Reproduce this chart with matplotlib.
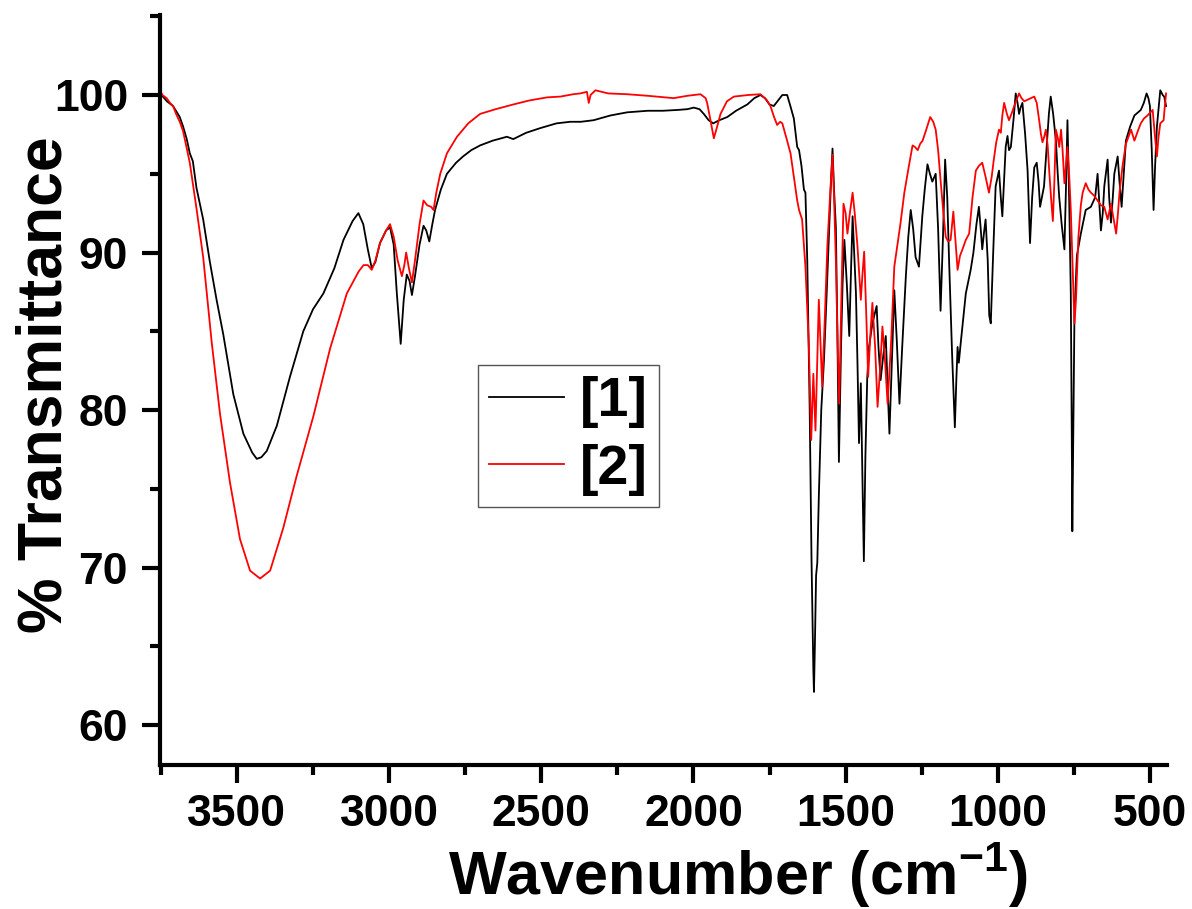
import numpy as np
import matplotlib
matplotlib.use('Agg')
import matplotlib.pyplot as plt
from matplotlib.ticker import MultipleLocator

# FT-IR spectra of the two compounds (wavenumber in cm-1, % transmittance)
wn_1 = [3750, 3748, 3730, 3710, 3688, 3677, 3665, 3655, 3645, 3633, 3611, 3589, 3567, 3545, 3512,
        3479, 3450, 3435, 3420, 3402, 3369, 3326, 3282, 3250, 3216, 3180, 3150, 3120, 3101, 3085,
        3070, 3057, 3045, 3030, 3010, 2997, 2985, 2975, 2962, 2952, 2942, 2933, 2925, 2915, 2900,
        2887, 2878, 2868, 2858, 2849, 2830, 2810, 2780, 2757, 2730, 2701, 2660, 2613, 2592, 2550,
        2503, 2450, 2405, 2370, 2328, 2273, 2218, 2150, 2100, 2054, 2020, 1999, 1980, 1966, 1950,
        1935, 1915, 1889, 1860, 1823, 1800, 1780, 1765, 1750, 1736, 1720, 1708, 1692, 1680, 1670,
        1659, 1653, 1645, 1637, 1632, 1626, 1618, 1612, 1606, 1604, 1601, 1597, 1593, 1588, 1580,
        1571, 1562, 1554, 1548, 1543, 1538, 1532, 1527, 1522, 1515, 1510, 1504, 1496, 1488, 1482,
        1477, 1472, 1466, 1461, 1456, 1450, 1445, 1440, 1435, 1429, 1423, 1412, 1398, 1392, 1385,
        1376, 1368, 1362, 1356, 1348, 1340, 1332, 1323, 1314, 1302, 1294, 1286, 1278, 1270, 1259,
        1248, 1240, 1231, 1223, 1215, 1204, 1196, 1188, 1180, 1173, 1166, 1160, 1150, 1141, 1136,
        1132, 1128, 1122, 1115, 1105, 1089, 1080, 1070, 1062, 1056, 1051, 1045, 1040, 1033, 1028,
        1023, 1015, 1007, 996, 990, 985, 974, 968, 963, 957, 948, 941, 935, 930, 925,
        919, 910, 902, 898, 894, 887, 880, 872, 866, 861, 855, 848, 840, 832, 826,
        818, 809, 803, 798, 790, 781, 776, 771, 765, 760, 757, 755, 752, 748, 740,
        727, 711, 694, 680, 672, 666, 661, 655, 650, 639, 634, 628, 622, 617, 606,
        600, 593, 586, 579, 565, 551, 530, 520, 511, 505, 500, 494, 488, 483, 477,
        466, 458, 453, 447]
tr_1 = [100.0, 100.0, 99.6, 99.3, 98.6, 98.0, 97.2, 96.3, 95.8, 94.1, 92.1, 89.4, 87.0, 84.8, 81.0,
        78.5, 77.3, 76.9, 77.0, 77.4, 79.0, 82.1, 85.0, 86.4, 87.4, 89.0, 90.8, 92.0, 92.5, 91.8,
        90.2, 89.0, 89.4, 90.6, 91.4, 91.6, 90.5, 87.5, 84.2, 87.0, 88.6, 88.2, 87.3, 88.5, 90.5,
        91.7, 91.4, 90.7, 91.8, 92.7, 94.0, 95.0, 95.7, 96.1, 96.5, 96.8, 97.1, 97.35, 97.2, 97.6,
        97.9, 98.2, 98.3, 98.3, 98.4, 98.7, 98.9, 99.0, 99.0, 99.05, 99.1, 99.2, 99.1, 98.8, 98.4,
        98.2, 98.4, 98.6, 99.0, 99.4, 99.8, 100.0, 99.8, 99.4, 99.3, 99.7, 100.0, 100.0, 99.2, 98.5,
        96.7, 96.5, 95.5, 94.0, 93.8, 89.5, 80.0, 70.5, 63.5, 62.1, 65.0, 69.5, 70.3, 74.5, 80.0,
        83.2, 87.5, 91.6, 94.5, 96.6, 94.0, 91.6, 85.0, 76.7, 84.0, 88.0, 90.8, 88.0, 84.7, 89.0,
        92.3, 90.0, 87.4, 83.0, 77.9, 81.7, 76.0, 70.4, 77.0, 82.0, 84.0, 85.5, 86.6, 84.0, 81.9,
        83.5, 84.7, 81.5, 78.5, 83.0, 87.6, 84.5, 80.4, 84.0, 88.5, 91.0, 92.7, 91.5, 89.7, 89.1,
        92.3, 94.0, 95.6, 95.0, 94.5, 95.0, 91.5, 86.3, 91.0, 95.9, 93.5, 89.5, 83.5, 78.9, 82.0,
        84.0, 83.0, 84.2, 85.5, 87.4, 88.9, 90.0, 91.8, 92.9, 91.5, 90.2, 91.3, 92.1, 89.5, 86.0,
        85.5, 90.0, 94.2, 95.2, 93.5, 92.3, 96.7, 97.4, 96.5, 96.7, 98.5, 100.1, 99.5, 98.8, 99.2,
        99.5, 97.5, 95.2, 93.0, 90.6, 93.5, 95.4, 95.7, 94.5, 92.9, 93.5, 94.2, 96.5, 98.8, 99.9,
        98.8, 97.1, 95.0, 93.5, 91.8, 90.2, 94.0, 98.4, 93.0, 87.4, 79.0, 72.3, 78.0, 86.0, 89.8,
        91.2, 92.7, 92.9, 93.5, 95.0, 93.0, 91.4, 92.5, 94.2, 95.9, 93.5, 91.9, 93.5, 95.0, 96.1,
        94.5, 92.9, 95.0, 97.1, 98.0, 98.7, 99.05, 99.5, 100.1, 99.8, 99.3, 96.5, 92.7, 95.5, 98.0,
        100.3, 100.0, 99.9, 99.3]

wn_2 = [3750, 3745, 3731, 3720, 3710, 3700, 3688, 3677, 3665, 3655, 3633, 3611, 3583, 3556, 3523,
        3490, 3457, 3424, 3391, 3348, 3304, 3249, 3194, 3139, 3100, 3084, 3070, 3057, 3045, 3030,
        3010, 2997, 2985, 2972, 2958, 2950, 2944, 2935, 2925, 2915, 2900, 2887, 2875, 2862, 2854,
        2845, 2832, 2810, 2777, 2740, 2701, 2650, 2592, 2540, 2481, 2437, 2395, 2372, 2350, 2344,
        2338, 2322, 2280, 2218, 2150, 2065, 2020, 1977, 1960, 1955, 1945, 1933, 1922, 1911, 1890,
        1867, 1820, 1780, 1760, 1747, 1735, 1725, 1715, 1708, 1695, 1681, 1670, 1659, 1653, 1643,
        1632, 1621, 1613, 1606, 1599, 1588, 1582, 1577, 1568, 1560, 1550, 1543, 1538, 1532, 1526,
        1521, 1514, 1507, 1500, 1494, 1486, 1477, 1470, 1461, 1455, 1450, 1445, 1439, 1432, 1426,
        1418, 1412, 1403, 1395, 1387, 1379, 1370, 1362, 1350, 1340, 1320, 1307, 1292, 1280, 1272,
        1263, 1255, 1247, 1235, 1222, 1212, 1204, 1196, 1188, 1180, 1171, 1163, 1155, 1150, 1146,
        1140, 1132, 1124, 1116, 1105, 1094, 1083, 1072, 1062, 1051, 1040, 1029, 1020, 1013, 1005,
        996, 990, 985, 979, 970, 963, 955, 946, 938, 930, 922, 913, 902, 891, 880,
        872, 864, 858, 853, 848, 842, 836, 831, 825, 819, 814, 809, 803, 798, 792,
        787, 781, 776, 771, 765, 760, 754, 748, 743, 735, 727, 721, 711, 702, 694,
        683, 672, 661, 650, 639, 628, 620, 611, 605, 600, 590, 579, 562, 551, 540,
        530, 520, 508, 491, 484, 477, 472, 466, 455, 451, 447]
tr_2 = [100.2, 100.0, 99.8, 99.5, 99.3, 98.8, 98.3, 97.7, 96.6, 95.7, 92.8, 89.7, 84.3, 79.8, 75.4,
        71.8, 69.8, 69.3, 69.8, 72.5, 75.8, 79.6, 83.9, 87.4, 88.8, 89.2, 89.2, 88.9, 89.5, 90.6,
        91.4, 91.8, 91.0, 89.5, 88.5, 89.2, 90.0, 89.0, 88.1, 89.5, 91.8, 93.3, 93.0, 92.9, 92.7,
        93.8, 95.0, 96.3, 97.35, 98.2, 98.8, 99.1, 99.4, 99.65, 99.85, 99.9, 100.05, 100.1, 100.2, 99.5,
        100.0, 100.3, 100.1, 100.05, 99.95, 99.8, 99.95, 100.05, 99.8, 99.5, 98.5, 97.25, 98.0, 98.8, 99.6,
        99.9, 100.0, 100.05, 99.7, 99.3, 98.6, 98.1, 98.3, 98.2, 97.3, 96.3, 94.8, 93.3, 92.7, 92.1,
        89.1, 84.2, 78.1, 82.3, 78.7, 87.0, 84.0, 81.5, 86.0, 90.4, 94.0, 96.2, 93.5, 89.5, 84.0,
        80.4, 87.0, 93.1, 92.5, 91.2, 92.5, 93.8, 92.5, 90.4, 88.5, 87.0, 88.5, 90.05, 86.0, 82.1,
        85.0, 86.8, 84.0, 80.2, 82.5, 85.3, 83.0, 80.4, 84.5, 89.1, 91.8, 93.8, 95.5, 96.8, 96.7,
        96.5, 96.9, 97.1, 97.8, 98.6, 98.3, 97.8, 96.5, 94.6, 92.8, 91.0, 90.7, 90.8, 91.8, 92.6,
        91.0, 88.9, 89.8, 90.2, 90.8, 91.2, 93.5, 95.2, 95.5, 95.7, 94.8, 93.8, 94.8, 95.9, 97.0,
        97.8, 97.6, 98.7, 99.5, 98.8, 98.4, 98.8, 99.3, 99.7, 100.1, 99.8, 99.6, 99.7, 99.8, 99.9,
        99.5, 98.4, 97.5, 97.0, 97.3, 97.8, 96.8, 95.2, 93.5, 92.0, 94.5, 97.8, 97.3, 96.7, 97.8,
        96.5, 94.4, 95.5, 96.7, 94.8, 92.7, 89.0, 85.5, 87.0, 91.0, 93.0, 93.8, 94.4, 94.0, 93.8,
        93.6, 93.3, 93.0, 92.9, 92.1, 93.1, 92.2, 91.2, 92.5, 93.8, 95.5, 96.9, 97.8, 97.1, 97.7,
        98.2, 98.5, 98.7, 99.05, 97.5, 96.1, 97.3, 98.2, 98.4, 99.3, 100.1]

labels = ['[1]', '[2]']
line_colors = ['black', 'red']

plt.rcParams['font.family'] = ['Liberation Sans', 'DejaVu Sans']
plt.rcParams['font.weight'] = 'bold'
plt.rcParams['mathtext.fontset'] = 'custom'
plt.rcParams['mathtext.rm'] = 'Liberation Sans:bold'
plt.rcParams['mathtext.bf'] = 'Liberation Sans:bold'

fig = plt.figure(figsize=(11.92, 9.09), dpi=100)
ax = fig.add_axes([0.1342, 0.1584, 0.8448, 0.8251])

ax.plot(wn_1, tr_1, color=line_colors[0], lw=1.3, label=labels[0])
ax.plot(wn_2, tr_2, color=line_colors[1], lw=1.3, label=labels[1])

# axis ranges, wavenumber decreasing to the right
ax.set_xlim(3753, 444)
ax.set_ylim(57.46, 105.08)

ax.xaxis.set_major_locator(MultipleLocator(500))
ax.xaxis.set_minor_locator(MultipleLocator(250))
ax.yaxis.set_major_locator(MultipleLocator(10))
ax.yaxis.set_minor_locator(MultipleLocator(5))

# only left and bottom axis lines
ax.spines['top'].set_visible(False)
ax.spines['right'].set_visible(False)
for side in ['left', 'bottom']:
    ax.spines[side].set_linewidth(3)

ax.tick_params(which='major', direction='out', length=13, width=3, labelsize=32)
ax.tick_params(which='minor', direction='out', length=7, width=3)
ax.tick_params(axis='x', which='major', pad=8)
ax.tick_params(axis='y', which='major', pad=10)
for lab in ax.get_xticklabels() + ax.get_yticklabels():
    lab.set_fontweight('bold')

ax.set_xlabel('Wavenumber (cm$^{\\mathbf{-1}}$)', fontsize=44, fontweight='bold')
ax.xaxis.set_label_coords(0.574, -0.100)
ax.set_ylabel('% Transmittance', fontsize=45, fontweight='bold')
ax.yaxis.set_label_coords(-0.085, 0.507)

leg = ax.legend(loc='upper left', bbox_to_anchor=(0.316, 0.533), borderaxespad=0,
                handlelength=1.35, handletextpad=0.28, labelspacing=0.28,
                borderpad=0.2, fancybox=False, framealpha=1, edgecolor='#555555',
                prop={'weight': 'bold', 'size': 40})
leg.get_frame().set_linewidth(1.0)

plt.savefig('out.png', dpi=100)
